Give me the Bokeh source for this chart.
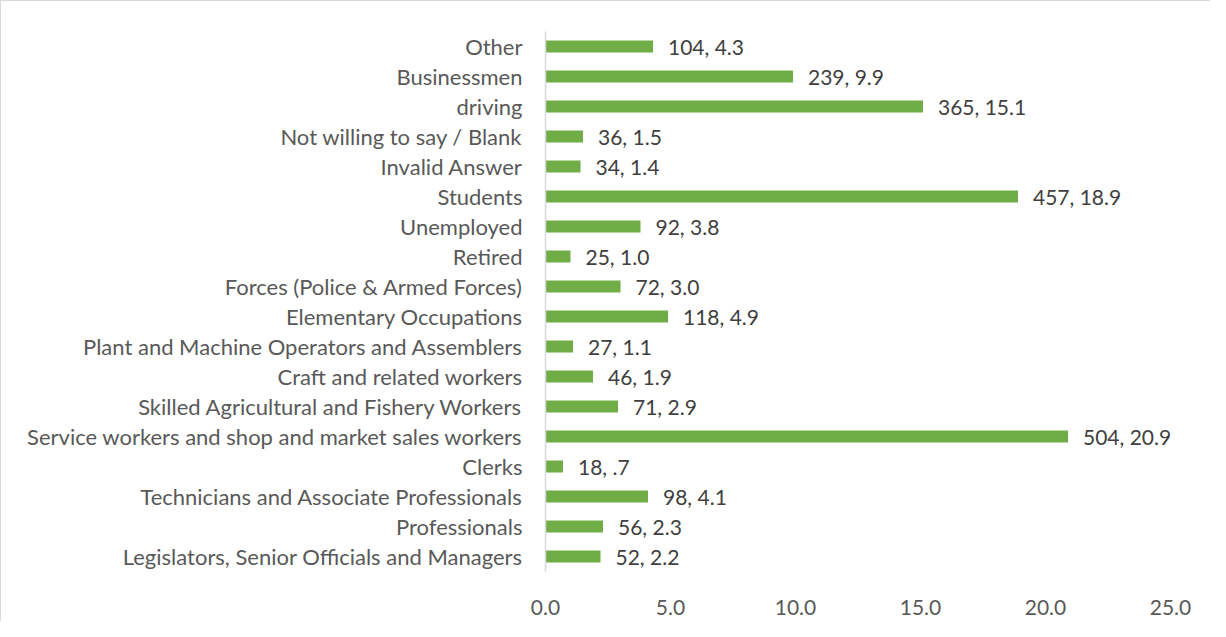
from bokeh.plotting import figure
from bokeh.models import ColumnDataSource, Range1d, FixedTicker, PrintfTickFormatter, FactorRange
from bokeh.core.properties import value
from bokeh.embed import file_html
from bokeh.resources import INLINE

categories = [
    "Legislators, Senior Officials and Managers",
    "Professionals",
    "Technicians and Associate Professionals",
    "Clerks",
    "Service workers and shop and market sales workers",
    "Skilled Agricultural and Fishery Workers",
    "Craft and related workers",
    "Plant and Machine Operators and Assemblers",
    "Elementary Occupations",
    "Forces (Police & Armed Forces)",
    "Retired",
    "Unemployed",
    "Students",
    "Invalid Answer",
    "Not willing to say / Blank",
    "driving",
    "Businessmen",
    "Other",
]
counts = [52, 56, 98, 18, 504, 71, 46, 27, 118, 72, 25, 92, 457, 34, 36, 365, 239, 104]
percents = [2.2, 2.3, 4.1, 0.7, 20.9, 2.9, 1.9, 1.1, 4.9, 3.0, 1.0, 3.8, 18.9, 1.4, 1.5, 15.1, 9.9, 4.3]
x_ticks = [0, 5, 10, 15, 20, 25]


def fmt_pct(v):
    s = f"{v:.1f}"
    if s.startswith("0."):
        s = s[1:]
    return s


labels = [f"{c}, {fmt_pct(v)}" for c, v in zip(counts, percents)]
src = ColumnDataSource(dict(cat=categories, pct=percents, lab=labels))

FONT = "Lato"

p = figure(
    width=1210, height=621,
    y_range=FactorRange(factors=categories),
    x_range=Range1d(0, 25),
    output_backend="svg", toolbar_location=None,
    min_border_left=544, min_border_right=41, min_border_top=30, min_border_bottom=51,
)
p.styles = {"border-left": "1px solid #d9d9d9", "border-top": "1px solid #d9d9d9"}
p.outline_line_color = None
p.background_fill_color = "white"
p.border_fill_color = "white"
p.xgrid.visible = False
p.ygrid.visible = False

p.hbar(y="cat", right="pct", left=0, height=0.4, source=src,
       fill_color="#70AD47", line_color=None)
p.text(x="pct", y="cat", text="lab", source=src, x_offset=15,
       text_baseline="middle", text_align="left",
       text_font=value(FONT), text_font_size="21px", text_color="#404040")

xa = p.xaxis[0]
xa.ticker = FixedTicker(ticks=x_ticks)
xa.formatter = PrintfTickFormatter(format="%.1f")
xa.axis_line_color = None
xa.major_tick_line_color = None
xa.minor_tick_line_color = None
xa.major_label_standoff = 22
xa.major_label_text_font = FONT
xa.major_label_text_font_size = "21px"
xa.major_label_text_color = "#595959"

ya = p.yaxis[0]
ya.axis_line_color = "#d9d9d9"
ya.axis_line_width = 1.5
ya.major_tick_line_color = None
ya.minor_tick_line_color = None
ya.major_tick_out = 0
ya.major_label_standoff = 23
ya.major_label_text_font = FONT
ya.major_label_text_font_size = "22px"
ya.major_label_text_color = "#595959"

open("out.html", "w").write(file_html(p, INLINE))
